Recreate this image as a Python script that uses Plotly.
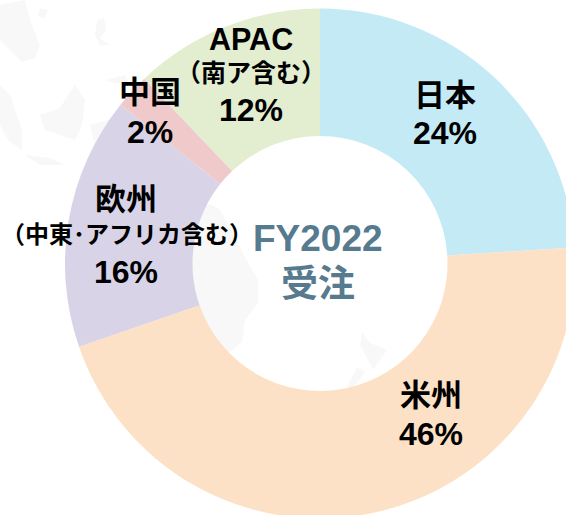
import plotly.graph_objects as go

labels = ["日本", "米州", "欧州", "中国", "APAC"]
values = [24, 45.7, 16, 2.2, 12.1]
colors = ["rgba(190,232,244,0.9)", "rgba(252,222,192,0.9)", "rgba(213,206,229,0.9)", "rgba(238,196,196,0.9)", "rgba(224,235,203,0.9)"]
annotations = [
    ("日本", 445, 95, 31), ("24%", 445, 133, 32),
    ("米州", 431, 395, 31), ("46%", 431, 434, 32),
    ("欧州", 126, 200, 31),
    ("（中東･アフリカ含む）", 127, 235, 24),
    ("16%", 126, 272, 32),
    ("中国", 150, 92, 31), ("2%", 150, 132, 32),
    ("APAC", 251, 39, 30.5),
    ("（南ア含む）", 251, 73, 25),
    ("12%", 251, 110, 32),
]
center = [("FY2022", 318, 239, 37), ("受注", 318, 284, 37)]
# faint decorative map behind the ring, in page pixels
map_shapes = [
    [(0,5),(25,0),(30,20),(40,45),(35,58),(22,62),(10,50),(0,40)],
    [(40,8),(48,10),(44,18),(38,16)],
    [(97,20),(104,18),(106,30),(100,38),(110,45),(100,45),(95,35)],
    [(40,115),(60,108),(75,85),(85,100),(82,125),(75,140),(45,130)],
    [(0,85),(10,95),(22,130),(22,150),(8,140),(0,125)],
    [(25,155),(50,158),(65,165),(40,165)],
    [(90,125),(115,118),(110,140),(95,145)],
    [(105,80),(125,75),(130,85),(110,82)],
    [(190,205),(212,205),(220,210),(233,233),(245,257),(258,280),(258,303),(245,320),(242,342),(230,352),(190,352)],
    [(362,332),(370,343),(387,350),(373,370),(368,360),(360,345)],
    [(357,367),(347,387),(353,388),(365,372)],
]
font = "Liberation Sans, Noto Sans CJK JP, sans-serif"
W, H = 576, 520

fig = go.Figure(go.Pie(
    labels=labels, values=values, hole=0.5, sort=False, direction="clockwise",
    rotation=0, marker=dict(colors=colors, line=dict(width=0)), textinfo="none",
    hoverinfo="label", showlegend=False,
    domain=dict(x=[65/W, 575/W], y=[1-518.5/H, 1-8.5/H]),
))
def ann(t, x, y, s, c):
    return dict(text=f"<b>{t}</b>", x=x/W, y=1-y/H, xref="paper", yref="paper",
                xanchor="center", yanchor="middle", showarrow=False,
                font=dict(size=s, color=c, family=font))
anns = [ann(*a, "#000000") for a in annotations] + [ann(*a, "#567a8e") for a in center]
def path(pts):
    return "M " + " L ".join(f"{x/W:.4f} {1-y/H:.4f}" for x, y in pts) + " Z"
shapes = [dict(type="path", path=path(p), xref="paper", yref="paper", layer="below",
               fillcolor="#f8f8f8", line=dict(width=0)) for p in map_shapes]
fig.update_layout(width=W, height=H, margin=dict(l=0, r=0, t=0, b=0),
                  paper_bgcolor="white", annotations=anns, shapes=shapes)
fig.write_html("out.html", config=dict(displayModeBar=False),
               post_script="document.body.style.margin='0';document.body.style.overflow='hidden';")
